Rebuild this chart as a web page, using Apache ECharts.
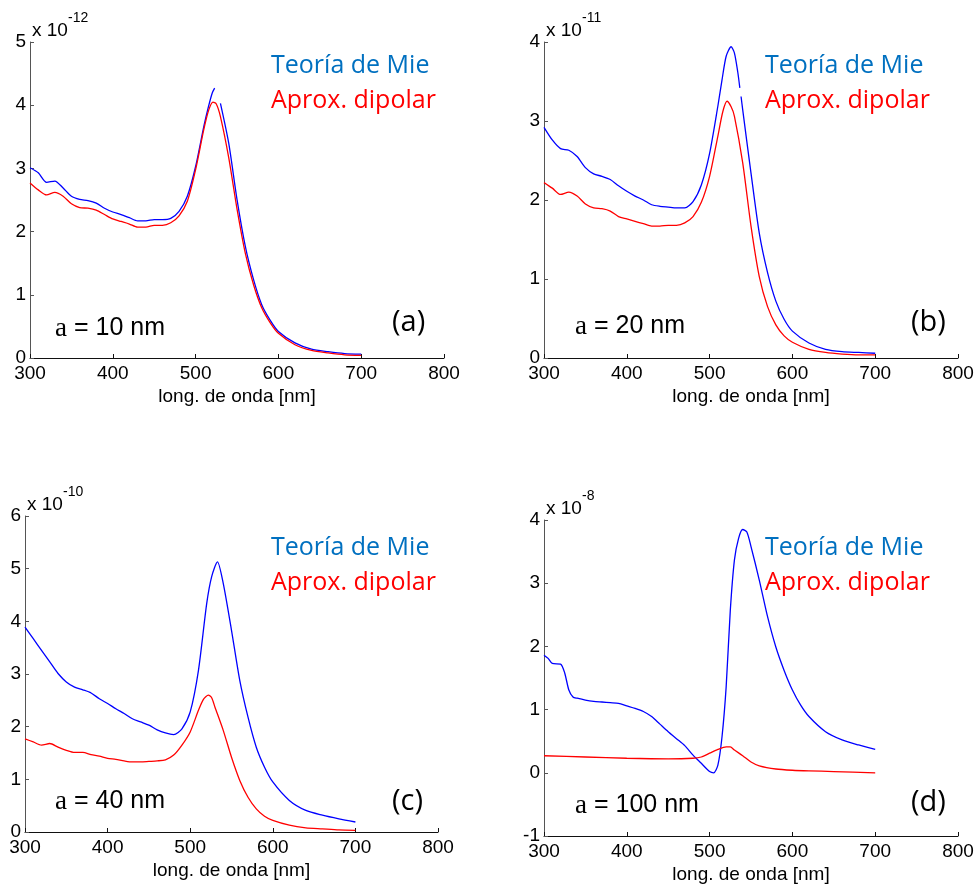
<!DOCTYPE html>
<html>
<head>
<meta charset="utf-8">
<title>Extinción: Teoría de Mie vs. aproximación dipolar</title>
<script src="https://cdn.jsdelivr.net/npm/echarts@6/dist/echarts.min.js"></script>
<style>
  html, body { margin: 0; padding: 0; background: #fff; }
  #chart { width: 979px; height: 888px; }
</style>
</head>
<body>
<div id="chart"></div>
<script>
// Wavelength axis (nm)
const xTicks = [300, 400, 500, 600, 700, 800];

// Panel (a): a = 10 nm, values in units of 1e-12
const mieA = [[300,3.01],[310,2.93],[320,2.78],[330,2.80],[340,2.69],[350,2.56],[360,2.51],[370,2.49],[380,2.45],[390,2.37],[400,2.31],[410,2.27],[420,2.22],[430,2.17],[440,2.17],[450,2.19],[460,2.19],[470,2.21],[480,2.32],[490,2.56],[500,3.03],[510,3.67],[515,3.95],[520,4.19],[523,4.27],[526,null],[530,4.03],[540,3.40],[550,2.51],[560,1.77],[570,1.24],[580,0.84],[590,0.60],[600,0.42],[620,0.24],[640,0.14],[660,0.10],[680,0.07],[700,0.06]];
const dipA = [[300,2.77],[310,2.66],[320,2.58],[330,2.62],[340,2.56],[350,2.44],[360,2.38],[370,2.37],[380,2.34],[390,2.27],[400,2.20],[410,2.16],[420,2.12],[430,2.07],[440,2.07],[450,2.10],[460,2.10],[470,2.14],[480,2.25],[490,2.48],[500,2.98],[510,3.62],[516,3.93],[521,4.05],[525,4.02],[530,3.82],[540,3.17],[550,2.36],[560,1.66],[570,1.16],[580,0.79],[590,0.56],[600,0.39],[620,0.21],[640,0.12],[660,0.08],[680,0.05],[700,0.04]];

// Panel (b): a = 20 nm, values in units of 1e-11
const mieB = [[300,2.92],[310,2.76],[320,2.65],[330,2.63],[340,2.55],[350,2.41],[360,2.33],[370,2.30],[380,2.26],[390,2.18],[400,2.11],[410,2.05],[420,2.00],[430,1.94],[440,1.92],[450,1.91],[460,1.90],[470,1.90],[480,1.98],[490,2.19],[500,2.59],[510,3.19],[515,3.52],[520,3.82],[526,3.94],[530,3.86],[534,3.62],[536.5,3.42],[537,null],[538,3.31],[540,3.14],[550,2.34],[560,1.58],[570,1.08],[580,0.72],[590,0.49],[600,0.34],[620,0.19],[640,0.11],[660,0.08],[680,0.07],[700,0.06]];
const dipB = [[300,2.22],[310,2.15],[320,2.07],[330,2.10],[340,2.05],[350,1.95],[360,1.90],[370,1.89],[380,1.86],[390,1.79],[400,1.76],[410,1.73],[420,1.70],[430,1.67],[440,1.67],[450,1.68],[460,1.68],[470,1.71],[480,1.79],[490,1.97],[500,2.30],[510,2.81],[516,3.12],[521,3.25],[526,3.18],[530,3.06],[540,2.47],[550,1.67],[560,1.03],[570,0.65],[580,0.42],[590,0.28],[600,0.20],[620,0.11],[640,0.07],[660,0.05],[680,0.04],[700,0.04]];

// Panel (c): a = 40 nm, values in units of 1e-10
const mieC = [[300,3.89],[310,3.67],[320,3.45],[330,3.23],[340,3.01],[350,2.85],[360,2.75],[370,2.70],[380,2.64],[390,2.53],[400,2.44],[410,2.34],[420,2.25],[430,2.15],[440,2.09],[450,2.03],[460,1.94],[470,1.88],[480,1.85],[490,1.96],[500,2.28],[510,3.07],[520,4.34],[526,4.85],[533,5.13],[540,4.72],[550,3.83],[560,2.88],[570,2.18],[580,1.61],[590,1.23],[600,0.95],[620,0.60],[640,0.41],[660,0.32],[680,0.25],[700,0.19]];
const dipC = [[300,1.77],[310,1.71],[320,1.65],[330,1.68],[340,1.61],[350,1.55],[360,1.51],[370,1.51],[380,1.47],[390,1.44],[400,1.40],[410,1.38],[420,1.35],[430,1.33],[440,1.33],[450,1.34],[460,1.35],[470,1.37],[480,1.46],[490,1.65],[500,1.90],[510,2.31],[516,2.52],[522,2.60],[526,2.55],[530,2.37],[540,1.93],[550,1.42],[560,0.98],[570,0.66],[580,0.44],[590,0.30],[600,0.22],[620,0.13],[640,0.08],[660,0.06],[680,0.04],[700,0.03]];

// Panel (d): a = 100 nm, values in units of 1e-8
const mieD = [[300,1.86],[305,1.81],[310,1.73],[320,1.72],[325,1.58],[330,1.31],[335,1.20],[340,1.18],[350,1.15],[360,1.13],[370,1.12],[380,1.11],[390,1.10],[400,1.06],[410,1.02],[420,0.97],[430,0.89],[440,0.77],[450,0.65],[460,0.54],[470,0.43],[480,0.28],[490,0.15],[500,0.02],[505,0.00],[510,0.12],[515,0.57],[520,1.36],[525,2.57],[530,3.37],[535,3.71],[540,3.85],[545,3.81],[550,3.58],[560,3.05],[570,2.47],[580,1.99],[590,1.62],[600,1.31],[610,1.07],[620,0.89],[640,0.65],[660,0.52],[680,0.44],[700,0.37]];
const dipD = [[300,0.27],[350,0.25],[400,0.23],[450,0.22],[480,0.23],[490,0.25],[500,0.31],[510,0.37],[520,0.41],[525,0.41],[530,0.36],[540,0.27],[550,0.17],[560,0.11],[580,0.06],[600,0.04],[620,0.03],[650,0.02],[700,0.00]];

// Per-panel y ranges, exponents and labels
const yMin = [0, 0, 0, -1];
const yMax = [5, 4, 6, 4];
const exponents = ['-12', '-11', '-10', '-8'];
const radii = ['10', '20', '40', '100'];
const letters = ['(a)', '(b)', '(c)', '(d)'];
const seriesNames = ['Teoría de Mie', 'Aprox. dipolar'];
const mieData = [mieA, mieB, mieC, mieD];
const dipData = [dipA, dipB, dipC, dipD];

// Layout of the four panels (pixels)
const panels = [
  { left: 30,  top: 42,  width: 414, height: 316 },
  { left: 544, top: 42,  width: 414, height: 316 },
  { left: 25,  top: 516, width: 413, height: 316 },
  { left: 544, top: 520, width: 414, height: 316 }
];

const SANS = 'Liberation Sans, Arial, sans-serif';
const CAL = 'Open Sans, Noto Sans, sans-serif';
const MIE_LINE = '#0000ff', DIP_LINE = '#ff0000';
const MIE_TEXT = '#0070c0', DIP_TEXT = '#ff0000';

const grid = [], xAxis = [], yAxis = [], series = [], legend = [], graphic = [];

panels.forEach((p, i) => {
  grid.push({ left: p.left, top: p.top, width: p.width, height: p.height });

  xAxis.push({
    gridIndex: i, type: 'value', min: xTicks[0], max: xTicks[xTicks.length - 1], interval: 100,
    name: 'long. de onda [nm]', nameLocation: 'middle', nameGap: 29,
    nameTextStyle: { fontFamily: SANS, fontSize: 19, color: '#000' },
    axisLine: { show: true, onZero: false, lineStyle: { color: '#111', width: 1 } },
    axisTick: { show: true, inside: true, length: 4, lineStyle: { color: '#111' } },
    axisLabel: { fontFamily: SANS, fontSize: 19, color: '#000', margin: 6 },
    splitLine: { show: false }
  });

  yAxis.push({
    gridIndex: i, type: 'value', min: yMin[i], max: yMax[i], interval: 1,
    axisLine: { show: true, lineStyle: { color: '#555', width: 1 } },
    axisTick: { show: true, inside: true, length: 4, lineStyle: { color: '#555' } },
    axisLabel: { fontFamily: SANS, fontSize: 19, color: '#000', margin: 4 },
    splitLine: { show: false }
  });

  const common = {
    type: 'line', xAxisIndex: i, yAxisIndex: i, showSymbol: false, symbol: 'none',
    smooth: 0.25, connectNulls: false, animation: false, z: 3
  };
  series.push(Object.assign({}, common, {
    name: seriesNames[0], data: mieData[i], lineStyle: { color: MIE_LINE, width: 1.3 }, itemStyle: { color: MIE_LINE }
  }));
  series.push(Object.assign({}, common, {
    name: seriesNames[1], data: dipData[i], lineStyle: { color: DIP_LINE, width: 1.3 }, itemStyle: { color: DIP_LINE }
  }));

  const right = i % 2 === 1;
  const lower = i >= 2;
  legend.push({
    orient: 'vertical', selectedMode: false,
    left: right ? 760 : 266, top: lower ? 535 : 53,
    itemWidth: 0, itemHeight: 0, itemGap: 10, icon: 'none', padding: 0,
    data: [
      { name: seriesNames[0], textStyle: { color: MIE_TEXT } },
      { name: seriesNames[1], textStyle: { color: DIP_TEXT } }
    ],
    textStyle: { fontFamily: CAL, fontSize: 25 }
  });

  // Axis multiplier (x 10^n)
  const ex = p.left + 2, ey = p.top - 12;
  graphic.push({
    type: 'text', left: ex, top: ey - 9,
    style: { text: 'x 10', fontFamily: SANS, fontSize: 19, fill: '#000' }
  });
  graphic.push({
    type: 'text', left: ex + 36, top: ey - 19,
    style: { text: exponents[i], fontFamily: SANS, fontSize: 14, fill: '#000' }
  });

  // Particle radius annotation
  const sizeY = [330, 328, 803, 807][i];
  graphic.push({
    type: 'text', left: right ? 575 : 55, top: sizeY - 15,
    style: {
      text: '{s|a} = ' + radii[i] + ' nm',
      fontFamily: SANS, fontSize: 25, fill: '#000',
      rich: { s: { fontFamily: 'Liberation Serif, serif', fontSize: 27, fill: '#000' } }
    }
  });

  // Panel letter
  const letterY = [328, 328, 807, 808][i];
  graphic.push({
    type: 'text', left: right ? 911 : 392, top: letterY - 20,
    style: { text: letters[i], fontFamily: CAL, fontSize: 29, fill: '#000' }
  });
});

const chart = echarts.init(document.getElementById('chart'), null, { renderer: 'canvas' });
chart.setOption({
  backgroundColor: '#fff',
  animation: false,
  grid, xAxis, yAxis, series, legend, graphic
});
</script>
</body>
</html>
